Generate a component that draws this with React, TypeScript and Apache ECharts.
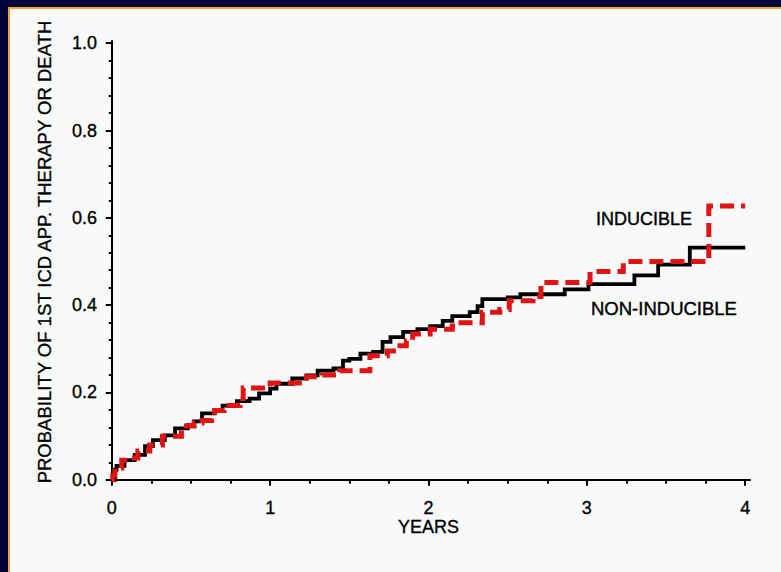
import { useEffect, useRef } from "react";
import * as echarts from "echarts";

// Kaplan-Meier style cumulative probability of 1st ICD appropriate therapy or death
const nonInducibleYears = [
  0, 0.02, 0.03, 0.08, 0.145, 0.21, 0.26, 0.335, 0.4, 0.48, 0.52, 0.57, 0.65, 0.7, 0.79, 0.87,
  0.93, 1.0, 1.04, 1.14, 1.23, 1.3, 1.4, 1.46, 1.5, 1.57, 1.65, 1.71, 1.76, 1.84, 1.93, 2.01,
  2.09, 2.15, 2.26, 2.31, 2.34, 2.5, 2.58, 2.86, 3.01, 3.3, 3.45, 3.65, 4.0,
];
const nonInducibleProb = [
  0, 0.023, 0.032, 0.045, 0.057, 0.077, 0.091, 0.102, 0.118, 0.125, 0.134, 0.152, 0.159, 0.17,
  0.18, 0.186, 0.198, 0.209, 0.22, 0.232, 0.239, 0.25, 0.255, 0.273, 0.277, 0.289, 0.293, 0.316,
  0.327, 0.339, 0.345, 0.352, 0.364, 0.375, 0.384, 0.398, 0.414, 0.418, 0.425, 0.436, 0.448,
  0.468, 0.493, 0.532, 0.532,
];

const inducibleYears = [
  0, 0.006, 0.02, 0.063, 0.1, 0.165, 0.24, 0.32, 0.44, 0.52, 0.57, 0.63, 0.65, 0.71, 0.81, 0.83,
  1.0, 1.23, 1.33, 1.44, 1.63, 1.74, 1.82, 1.86, 1.9, 2.01, 2.15, 2.18, 2.34, 2.45, 2.51, 2.66,
  2.71, 3.02, 3.23, 3.77, 4.0,
];
const inducibleProb = [
  0, 0.01, 0.027, 0.045, 0.05, 0.066, 0.08, 0.1, 0.123, 0.13, 0.136, 0.148, 0.159, 0.17, 0.186,
  0.21, 0.222, 0.236, 0.24, 0.25, 0.284, 0.295, 0.307, 0.318, 0.334, 0.345, 0.352, 0.36, 0.384,
  0.39, 0.41, 0.42, 0.452, 0.477, 0.5, 0.627, 0.627,
];

const xMajorTicks = [0, 1, 2, 3, 4];
const xMinorTicks = [
  0, 0.25, 0.5, 0.75, 1, 1.25, 1.5, 1.75, 2, 2.25, 2.5, 2.75, 3, 3.25, 3.5, 3.75, 4,
];
const yMajorTicks = [0, 0.2, 0.4, 0.6, 0.8, 1.0];
const yMinorTicks = [
  0, 0.04, 0.08, 0.12, 0.16, 0.2, 0.24, 0.28, 0.32, 0.36, 0.4, 0.44, 0.48, 0.52, 0.56, 0.6,
  0.64, 0.68, 0.72, 0.76, 0.8, 0.84, 0.88, 0.92, 0.96, 1.0,
];

const yTitle = "PROBABILITY OF 1ST ICD APP. THERAPY OR DEATH";
const xTitle = "YEARS";
const inducibleLabel = "INDUCIBLE";
const nonInducibleLabel = "NON-INDUCIBLE";

const FONT = '"Liberation Sans", Arial, Helvetica, sans-serif';
const NAVY = "#03033a";
const ORANGE = "#eea437";
const PAPER = "#f7faf8";
const INK = "#000";
// thin outline that gives the lettering a slightly heavier stroke
const heavy = { textBorderColor: INK, textBorderWidth: 0.35 };

export default function App() {
  const ref = useRef<HTMLDivElement>(null);

  useEffect(() => {
    if (!ref.current) return;
    const chart = echarts.init(ref.current, undefined, { renderer: "svg" });

    const pairs = (xs: number[], ys: number[]) => xs.map((x, i) => [x, ys[i]]);

    const xRange = { min: -0.03, max: 4.03 };
    const yRange = { min: -0.005, max: 1.005 };

    chart.setOption({
      animation: false,
      backgroundColor: "transparent",
      textStyle: { fontFamily: FONT },
      grid: { left: 107, right: 31, top: 41, bottom: 90, containLabel: false },
      xAxis: [
        {
          type: "value",
          position: "bottom",
          ...xRange,
          splitLine: { show: false },
          axisLine: { show: true, lineStyle: { color: INK, width: 2 } },
          axisTick: {
            show: true,
            customValues: xMajorTicks,
            length: 6,
            lineStyle: { color: INK, width: 2 },
          },
          axisLabel: {
            customValues: xMajorTicks,
            color: INK,
            fontSize: 18,
            fontFamily: FONT,
            margin: 17,
            ...heavy,
            formatter: (v: number) => String(v),
          },
          name: xTitle,
          nameLocation: "middle",
          nameGap: 36,
          nameMoveOverlap: false,
          nameTextStyle: { color: INK, fontSize: 18, fontFamily: FONT, ...heavy },
        },
        {
          type: "value",
          position: "bottom",
          ...xRange,
          splitLine: { show: false },
          axisLine: { show: false },
          axisLabel: { show: false },
          axisTick: {
            show: true,
            customValues: xMinorTicks,
            length: 4,
            lineStyle: { color: INK, width: 2 },
          },
        },
      ],
      yAxis: [
        {
          type: "value",
          position: "left",
          ...yRange,
          splitLine: { show: false },
          axisLine: { show: true, lineStyle: { color: INK, width: 2 } },
          axisTick: {
            show: true,
            customValues: yMajorTicks,
            length: 6,
            lineStyle: { color: INK, width: 2 },
          },
          axisLabel: {
            customValues: yMajorTicks,
            color: INK,
            fontSize: 18,
            fontFamily: FONT,
            margin: 10,
            ...heavy,
            formatter: (v: number) => v.toFixed(1),
          },
        },
        {
          type: "value",
          position: "left",
          ...yRange,
          splitLine: { show: false },
          axisLine: { show: false },
          axisLabel: { show: false },
          axisTick: {
            show: true,
            customValues: yMinorTicks,
            length: 3,
            lineStyle: { color: INK, width: 2 },
          },
        },
      ],
      series: [
        {
          name: nonInducibleLabel,
          type: "line",
          step: "end",
          xAxisIndex: 0,
          yAxisIndex: 0,
          symbol: "none",
          data: pairs(nonInducibleYears, nonInducibleProb),
          lineStyle: { color: INK, width: 3.8, cap: "butt", join: "miter" },
          z: 3,
        },
        {
          name: inducibleLabel,
          type: "line",
          step: "end",
          xAxisIndex: 0,
          yAxisIndex: 0,
          symbol: "none",
          data: pairs(inducibleYears, inducibleProb),
          lineStyle: { color: "#e01414", width: 5, type: [14, 7], cap: "butt", join: "miter" },
          z: 4,
        },
      ],
      graphic: [
        {
          type: "text",
          x: 44,
          y: 252,
          rotation: Math.PI / 2,
          style: {
            text: yTitle,
            font: `18.5px ${FONT}`,
            fill: INK,
            stroke: INK,
            lineWidth: 0.3,
            align: "center",
            verticalAlign: "middle",
          },
        },
        {
          type: "text",
          x: 596,
          y: 219,
          style: {
            text: inducibleLabel,
            font: `18px ${FONT}`,
            fill: INK,
            stroke: INK,
            lineWidth: 0.4,
            align: "left",
            verticalAlign: "middle",
          },
        },
        {
          type: "text",
          x: 591,
          y: 308,
          style: {
            text: nonInducibleLabel,
            font: `18.5px ${FONT}`,
            fill: INK,
            stroke: INK,
            lineWidth: 0.4,
            align: "left",
            verticalAlign: "middle",
          },
        },
      ],
    });

    return () => chart.dispose();
  }, []);

  return (
    <div
      style={{
        position: "fixed",
        left: 0,
        top: 0,
        width: 781,
        height: 572,
        background: NAVY,
        overflow: "hidden",
      }}
    >
      <div
        style={{
          position: "absolute",
          left: 8,
          top: 7,
          width: 773,
          height: 565,
          boxSizing: "border-box",
          borderLeft: `2px solid ${ORANGE}`,
          borderTop: `2px solid ${ORANGE}`,
          background: PAPER,
        }}
      />
      <div ref={ref} style={{ position: "absolute", left: 0, top: 0, width: 781, height: 572 }} />
    </div>
  );
}
